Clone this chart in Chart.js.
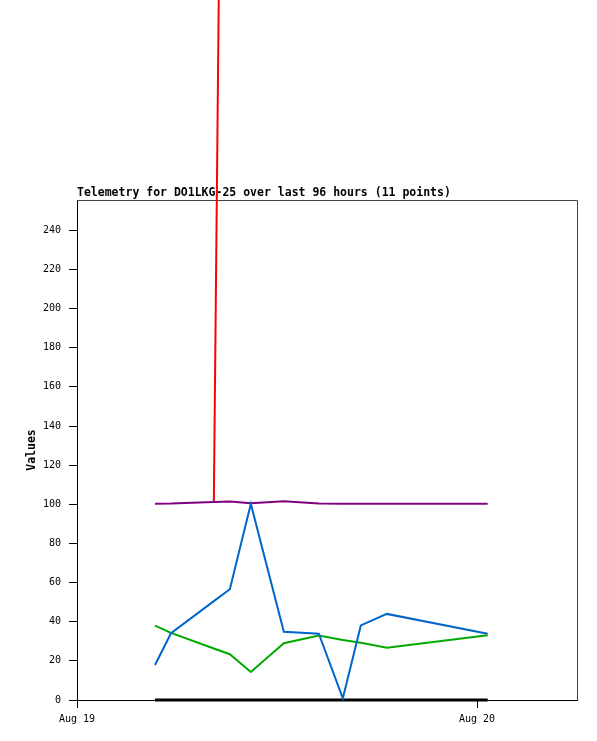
<!DOCTYPE html>
<html>
<head>
<meta charset="utf-8">
<script src="https://cdn.jsdelivr.net/npm/chart.js@4.4.1/dist/chart.umd.min.js"></script>
<style>
  body { margin: 0; background: #fff; }
  #wrap { width: 597px; height: 741px; position: relative; }
</style>
</head>
<body>
<div id="wrap"><canvas id="telemetryCanvas"></canvas></div>
<script>
// hours since Aug 19 00:00 for each of the 11 points
const hours = [4.68, 5.64, 8.21, 9.17, 10.43, 12.41, 14.51, 15.95, 17.03, 18.59, 24.64];

const blueValues = [17.9, 34.1, 50.5, 56.6, 100.2, 34.9, 33.9, 0.9, 38.1, 44.0, 33.8];
const greenValues = [38.0, 34.3, 26.3, 23.4, 14.3, 29.0, 32.9, 30.7, 29.2, 26.7, 33.1];
const purpleValues = [100.3, 100.4, 101.2, 101.4, 100.5, 101.5, 100.4, 100.3, 100.3, 100.3, 100.3];
const redValues = [null, null, 101.0, 938, 945, 950, 940, 935, 940, 945, 950];
const blackValues = [0, 0, 0, 0, 0, 0, 0, 0, 0, 0, 0];

const xTickHours = [0, 24];
const xTickLabels = ['Aug 19', 'Aug 20'];
const yTicks = [0, 20, 40, 60, 80, 100, 120, 140, 160, 180, 200, 220, 240];

const TITLE = 'Telemetry for DO1LKG-25 over last 96 hours (11 points)';
const MONO = '"DejaVu Sans Mono", "Liberation Mono", monospace';

function toPoints(values) {
    return values.map((v, i) => ({ x: hours[i], y: v }));
}

function makeSeries(values, color, width) {
    return {
        data: toPoints(values),
        borderColor: color,
        backgroundColor: color,
        borderWidth: width || 2,
        pointRadius: 0,
        tension: 0,
        fill: false,
        spanGaps: false,
        clip: false
    };
}

// frame, title and axis title drawn before the lines so the red line runs over them
const framePlugin = {
    id: 'frame',
    beforeDatasetsDraw(chart) {
        const { ctx, chartArea } = chart;
        ctx.save();
        ctx.strokeStyle = '#444444';
        ctx.lineWidth = 1;
        ctx.beginPath();
        ctx.moveTo(chartArea.left, chartArea.top + 0.5);
        ctx.lineTo(chartArea.right + 0.5, chartArea.top + 0.5);
        ctx.lineTo(chartArea.right + 0.5, chartArea.bottom);
        ctx.stroke();

        ctx.fillStyle = '#000';
        ctx.font = 'bold 11.5px ' + MONO;
        ctx.textAlign = 'left';
        ctx.textBaseline = 'middle';
        ctx.fillText(TITLE, chartArea.left, chartArea.top - 7);

        ctx.translate(32, 450);
        ctx.rotate(-Math.PI / 2);
        ctx.textAlign = 'center';
        ctx.fillText('Values', 0, 0);
        ctx.restore();
    }
};

const ctx = document.getElementById('telemetryCanvas').getContext('2d');

new Chart(ctx, {
    type: 'line',
    data: {
        datasets: [
            makeSeries(blueValues, '#0066cc'),
            makeSeries(greenValues, '#00aa00'),
            makeSeries(purpleValues, '#800080'),
            makeSeries(redValues, '#ff0000'),
            makeSeries(blackValues, '#000000', 3)
        ]
    },
    options: {
        responsive: true,
        maintainAspectRatio: false,
        animation: false,
        layout: { padding: { top: 200, right: 20, bottom: 0, left: 0 } },
        plugins: {
            legend: { display: false },
            title: { display: false },
            tooltip: { enabled: false }
        },
        scales: {
            x: {
                type: 'linear',
                min: 0,
                max: 30,
                afterBuildTicks: scale => { scale.ticks = xTickHours.map(v => ({ value: v })); },
                afterFit: scale => { scale.height = 41; },
                ticks: {
                    autoSkip: false,
                    maxRotation: 0,
                    padding: 5,
                    color: '#000',
                    font: { family: MONO, size: 10 },
                    callback: value => xTickLabels[xTickHours.indexOf(value)]
                },
                grid: { drawOnChartArea: false, tickLength: 8, color: '#000' },
                border: { color: '#000', width: 1 }
            },
            y: {
                min: 0,
                max: 255.5,
                afterBuildTicks: scale => { scale.ticks = yTicks.map(v => ({ value: v })); },
                afterFit: scale => { scale.width = 77; },
                ticks: {
                    padding: 8,
                    color: '#000',
                    font: { family: MONO, size: 10 }
                },
                grid: { drawOnChartArea: false, tickLength: 8, color: '#000' },
                border: { color: '#000', width: 1 }
            }
        }
    },
    plugins: [framePlugin]
});
</script>
</body>
</html>
